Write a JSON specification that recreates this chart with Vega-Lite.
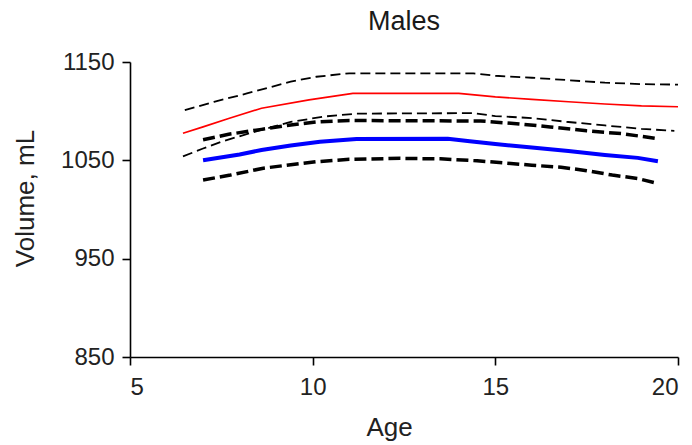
{
  "$schema": "https://vega.github.io/schema/vega-lite/v6.json",
  "width": 548,
  "height": 295,
  "autosize": {"type": "none"},
  "padding": {"left": 130, "top": 62, "right": 14, "bottom": 88},
  "background": "white",
  "title": {"text": "Males", "font": "Liberation Sans", "fontSize": 27, "fontWeight": "normal", "color": "#1a1a1a", "anchor": "middle", "frame": "group", "offset": 14},
  "config": {
    "view": {"stroke": null},
    "axis": {"grid": false, "domainColor": "#000", "domainWidth": 1.6, "tickColor": "#000", "tickWidth": 1.6, "tickSize": 8, "labelFont": "Liberation Sans", "labelFontSize": 24, "labelColor": "#222", "titleFont": "Liberation Sans", "titleFontSize": 26, "titleFontWeight": "normal", "titleColor": "#222"}
  },
  "data": {"values": [
    {"s": "upper_thin", "age": 6.5, "v": 1101}, {"s": "upper_thin", "age": 7.3, "v": 1109.5}, {"s": "upper_thin", "age": 8.2, "v": 1118}, {"s": "upper_thin", "age": 9.4, "v": 1130}, {"s": "upper_thin", "age": 10.1, "v": 1135}, {"s": "upper_thin", "age": 11.0, "v": 1138.5}, {"s": "upper_thin", "age": 14.4, "v": 1138.5}, {"s": "upper_thin", "age": 15.0, "v": 1136}, {"s": "upper_thin", "age": 16.0, "v": 1134}, {"s": "upper_thin", "age": 17.0, "v": 1131.5}, {"s": "upper_thin", "age": 18.0, "v": 1129}, {"s": "upper_thin", "age": 19.0, "v": 1127.5}, {"s": "upper_thin", "age": 20.0, "v": 1127},
    {"s": "red", "age": 6.45, "v": 1077.5}, {"s": "red", "age": 7.0, "v": 1084}, {"s": "red", "age": 7.7, "v": 1092.5}, {"s": "red", "age": 8.6, "v": 1103}, {"s": "red", "age": 9.9, "v": 1111.5}, {"s": "red", "age": 11.1, "v": 1118}, {"s": "red", "age": 14.0, "v": 1118}, {"s": "red", "age": 15.0, "v": 1114.5}, {"s": "red", "age": 16.0, "v": 1112}, {"s": "red", "age": 17.0, "v": 1109.6}, {"s": "red", "age": 18.0, "v": 1107.3}, {"s": "red", "age": 19.0, "v": 1105.3}, {"s": "red", "age": 20.0, "v": 1104.5},
    {"s": "lower_thin", "age": 6.45, "v": 1054}, {"s": "lower_thin", "age": 7.0, "v": 1062}, {"s": "lower_thin", "age": 7.5, "v": 1069}, {"s": "lower_thin", "age": 8.5, "v": 1080}, {"s": "lower_thin", "age": 9.4, "v": 1089}, {"s": "lower_thin", "age": 10.3, "v": 1094.5}, {"s": "lower_thin", "age": 11.2, "v": 1097.5}, {"s": "lower_thin", "age": 14.4, "v": 1098}, {"s": "lower_thin", "age": 15.0, "v": 1095}, {"s": "lower_thin", "age": 16.0, "v": 1093}, {"s": "lower_thin", "age": 17.0, "v": 1089}, {"s": "lower_thin", "age": 18.0, "v": 1085.5}, {"s": "lower_thin", "age": 19.0, "v": 1082}, {"s": "lower_thin", "age": 19.9, "v": 1080},
    {"s": "upper_thick", "age": 7.0, "v": 1071}, {"s": "upper_thick", "age": 7.7, "v": 1076.5}, {"s": "upper_thick", "age": 8.6, "v": 1081.5}, {"s": "upper_thick", "age": 9.4, "v": 1086}, {"s": "upper_thick", "age": 10.1, "v": 1089}, {"s": "upper_thick", "age": 11.0, "v": 1090.5}, {"s": "upper_thick", "age": 14.6, "v": 1090}, {"s": "upper_thick", "age": 15.5, "v": 1087.5}, {"s": "upper_thick", "age": 16.5, "v": 1084}, {"s": "upper_thick", "age": 17.5, "v": 1080}, {"s": "upper_thick", "age": 18.5, "v": 1077}, {"s": "upper_thick", "age": 19.45, "v": 1072},
    {"s": "blue", "age": 7.0, "v": 1050}, {"s": "blue", "age": 8.0, "v": 1056}, {"s": "blue", "age": 8.6, "v": 1060.5}, {"s": "blue", "age": 9.4, "v": 1065}, {"s": "blue", "age": 10.2, "v": 1069}, {"s": "blue", "age": 11.2, "v": 1071.7}, {"s": "blue", "age": 13.7, "v": 1072}, {"s": "blue", "age": 14.3, "v": 1069.5}, {"s": "blue", "age": 15.0, "v": 1066.5}, {"s": "blue", "age": 16.0, "v": 1063}, {"s": "blue", "age": 17.0, "v": 1059.5}, {"s": "blue", "age": 18.0, "v": 1055.5}, {"s": "blue", "age": 18.9, "v": 1052.5}, {"s": "blue", "age": 19.45, "v": 1049},
    {"s": "lower_thick", "age": 7.0, "v": 1030}, {"s": "lower_thick", "age": 7.75, "v": 1035}, {"s": "lower_thick", "age": 8.65, "v": 1042}, {"s": "lower_thick", "age": 9.4, "v": 1045.5}, {"s": "lower_thick", "age": 10.1, "v": 1048.6}, {"s": "lower_thick", "age": 11.0, "v": 1051}, {"s": "lower_thick", "age": 12.4, "v": 1052}, {"s": "lower_thick", "age": 13.5, "v": 1051.5}, {"s": "lower_thick", "age": 14.5, "v": 1049.5}, {"s": "lower_thick", "age": 15.2, "v": 1047.5}, {"s": "lower_thick", "age": 16.0, "v": 1045}, {"s": "lower_thick", "age": 16.8, "v": 1043}, {"s": "lower_thick", "age": 17.5, "v": 1039.5}, {"s": "lower_thick", "age": 18.2, "v": 1035}, {"s": "lower_thick", "age": 18.9, "v": 1031.5}, {"s": "lower_thick", "age": 19.45, "v": 1026.5}
  ]},
  "encoding": {
    "x": {"field": "age", "type": "quantitative", "scale": {"domain": [5, 20], "nice": false, "zero": false},
      "axis": {"title": "Age", "values": [5, 10, 15, 20], "format": "d", "labelPadding": 10, "titleX": 259, "titleY": 78, "titleBaseline": "alphabetic"}},
    "y": {"field": "v", "type": "quantitative", "scale": {"domain": [850, 1150], "nice": false, "zero": false},
      "axis": {"title": "Volume, mL", "values": [850, 950, 1050, 1150], "format": "d", "labelPadding": 8, "titleX": -97, "titleY": 136, "titleBaseline": "alphabetic"}}
  },
  "layer": [
    {"transform": [{"filter": "datum.s === 'upper_thin' || datum.s === 'lower_thin'"}],
     "mark": {"type": "line", "color": "#000", "strokeWidth": 1.8, "strokeDash": [10, 5]},
     "encoding": {"detail": {"field": "s"}}},
    {"transform": [{"filter": "datum.s === 'upper_thick' || datum.s === 'lower_thick'"}],
     "mark": {"type": "line", "color": "#000", "strokeWidth": 3.5, "strokeDash": [12, 5]},
     "encoding": {"detail": {"field": "s"}}},
    {"transform": [{"filter": "datum.s === 'red'"}],
     "mark": {"type": "line", "color": "#ff0000", "strokeWidth": 1.7},
     "encoding": {}},
    {"transform": [{"filter": "datum.s === 'blue'"}],
     "mark": {"type": "line", "color": "#0000ff", "strokeWidth": 4},
     "encoding": {}}
  ]
}
